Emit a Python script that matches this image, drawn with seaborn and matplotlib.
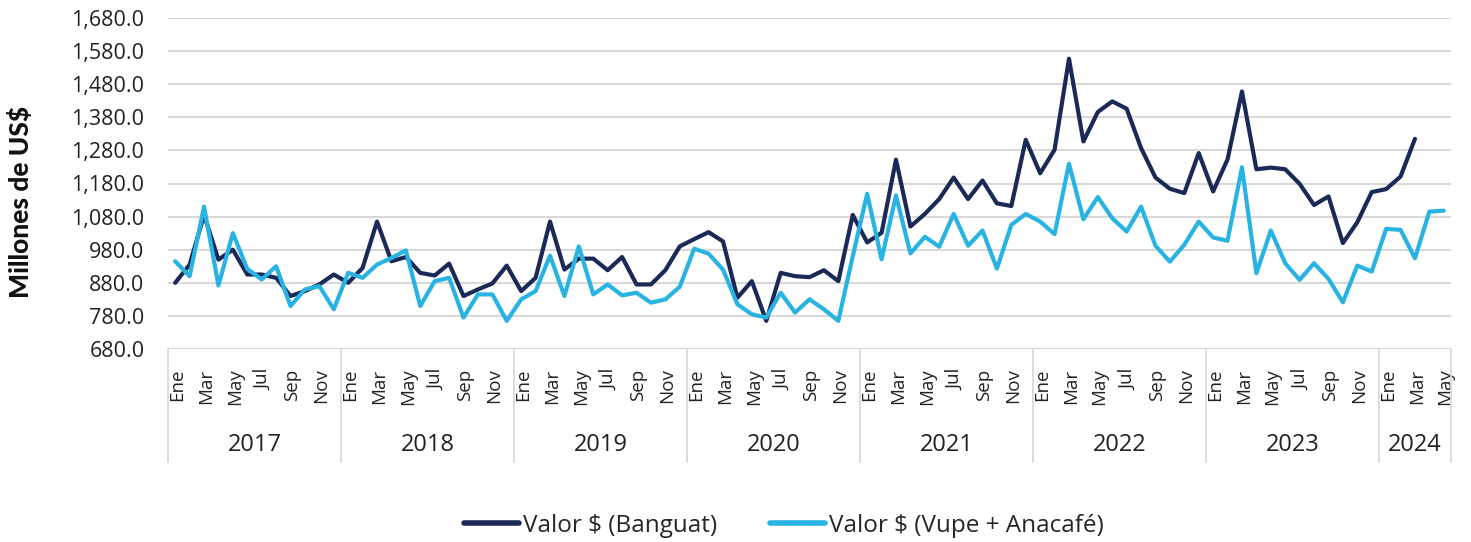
import numpy as np
import pandas as pd
import matplotlib
matplotlib.use("Agg")
import matplotlib.pyplot as plt
import matplotlib.transforms as mtransforms
import seaborn as sns

# Monthly coffee export value, millions of US$ (Jan 2017 - May 2024)
years = ["2017", "2018", "2019", "2020", "2021", "2022", "2023", "2024"]
months = ["Ene", "Feb", "Mar", "Abr", "May", "Jun", "Jul", "Ago", "Sep", "Oct", "Nov", "Dic"]
month_labels = ["Ene", "", "Mar", "", "May", "", "Jul", "", "Sep", "", "Nov", ""]

banguat = [
    880, 935, 1085, 950, 980, 905, 905, 895, 840, 855, 875, 905,      # 2017
    880, 925, 1065, 945, 958, 910, 902, 938, 840, 860, 878, 932,      # 2018
    855, 895, 1065, 920, 953, 953, 918, 958, 875, 875, 918, 990,      # 2019
    1012, 1033, 1005, 835, 885, 765, 910, 900, 897, 918, 885, 1085,   # 2020
    1002, 1031, 1252, 1050, 1088, 1133, 1198, 1133, 1189, 1120, 1112, 1312,  # 2021
    1211, 1282, 1557, 1307, 1396, 1428, 1406, 1287, 1198, 1164, 1151, 1272,  # 2022
    1156, 1253, 1458, 1223, 1228, 1223, 1179, 1115, 1141, 1000, 1063, 1154,  # 2023
    1163, 1201, 1315, np.nan, np.nan,                                  # 2024
]

vupe_anacafe = [
    945, 900, 1110, 872, 1030, 922, 890, 930, 810, 860, 870, 800,     # 2017
    910, 895, 935, 955, 978, 810, 885, 895, 775, 845, 845, 765,       # 2018
    830, 855, 962, 840, 990, 845, 875, 842, 850, 820, 830, 868,       # 2019
    983, 968, 920, 815, 785, 775, 850, 790, 830, 800, 765, 960,       # 2020
    1149, 951, 1144, 969, 1019, 989, 1088, 992, 1038, 923, 1055, 1088,  # 2021
    1065, 1027, 1240, 1072, 1139, 1075, 1035, 1110, 992, 944, 995, 1065,  # 2022
    1017, 1007, 1229, 909, 1038, 939, 889, 939, 892, 821, 932, 914,   # 2023
    1043, 1040, 954, 1095, 1098,                                      # 2024
]

series_names = ["Valor $ (Banguat)", "Valor $ (Vupe + Anacafé)"]
colors = ["#1b2957", "#29b3e3"]

n = len(vupe_anacafe)
month_tick = [month_labels[i % 12] for i in range(n)]

df = pd.DataFrame({
    "pos": list(range(n)) * 2,
    "valor": banguat + vupe_anacafe,
    "serie": [series_names[0]] * n + [series_names[1]] * n,
})

sns.set_theme(style="white")
plt.rcParams["font.family"] = ["Open Sans", "DejaVu Sans"]

W, H = 1471, 542
fig = plt.figure(figsize=(W / 100, H / 100), dpi=100)
left, right, top, bottom = 168, 1451, 18, 349
ax = fig.add_axes([left / W, 1 - bottom / H, (right - left) / W, (bottom - top) / H])

sns.lineplot(data=df, x="pos", y="valor", hue="serie", palette=colors,
             hue_order=series_names, linewidth=3.0, ax=ax, legend=False,
             sort=False, estimator=None)
for line in ax.get_lines():
    line.set_solid_joinstyle("round")
    line.set_solid_capstyle("round")

ax.set_xlim(-0.5, n - 0.5)
ax.set_ylim(680, 1680)
yt = np.arange(680, 1681, 100)
ax.set_yticks(yt)
ax.set_yticklabels([f"{v:,.1f}" for v in yt], fontsize=15.5, color="#222222")
ax.tick_params(axis="y", length=0, pad=17)
ax.yaxis.grid(True, color="#d9d9d9", linewidth=1.5)
ax.set_axisbelow(True)
for s in ax.spines.values():
    s.set_visible(False)

ax.set_xticks(range(n))
ax.set_xticklabels(month_tick, rotation=90, fontsize=13.5, va="top", ha="center",
                   color="#222222")
ax.tick_params(axis="x", length=0, pad=14)
shift = mtransforms.ScaledTranslation(1.8 / 100, 0, fig.dpi_scale_trans)
for lbl in ax.get_xticklabels():
    lbl.set_transform(lbl.get_transform() + shift)
ax.set_xlabel("")
ax.set_ylabel("")

# Year group labels and separators beneath the month labels
trans = ax.get_xaxis_transform()
sep_bottom = -(462 - bottom) / (bottom - top)
year_y = -(445 - bottom) / (bottom - top)
starts = list(range(0, n, 12))
for k, s in enumerate(starts):
    e = min(s + 12, n)
    ax.text((s + e - 1) / 2, year_y, years[k], transform=trans, ha="center",
            va="center", fontsize=17, color="#222222")
for b in starts + [n]:
    ax.plot([b - 0.5, b - 0.5], [0, sep_bottom], transform=trans, color="#d9d9d9",
            linewidth=1.3, clip_on=False)

fig.text(21 / W, 1 - ((top + bottom) / 2 + 18) / H, "Millones de US$", rotation=90,
         ha="center", va="center", fontsize=19, fontweight="black",
         family=["Lato", "DejaVu Sans"], color="#111111")

handles = [plt.Line2D([], [], color=c, linewidth=4, solid_capstyle="round") for c in colors]
fig.legend(handles, series_names, loc="center", bbox_to_anchor=(784 / W, 1 - 526 / H),
           ncol=2, frameon=False, fontsize=17.5, handlelength=2.25, handletextpad=0.15,
           columnspacing=2.2)

fig.savefig("out.png", dpi=100)
